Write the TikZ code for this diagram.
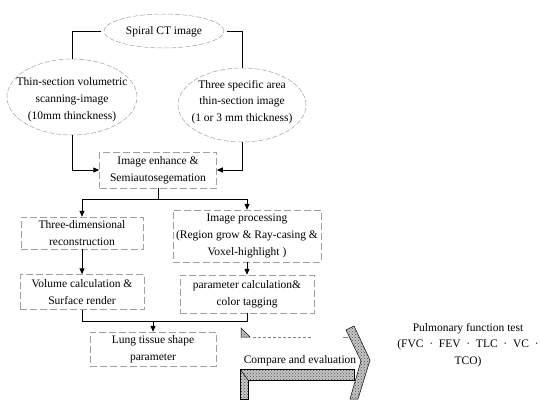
\documentclass[tikz,border=0pt]{standalone}
\usepackage{fontspec}
\setmainfont{Liberation Serif}
\usetikzlibrary{arrows.meta,shapes.geometric,patterns}
\begin{document}
\begin{tikzpicture}[x=1pt,y=-1pt,
  txt/.style={align=center, inner sep=0pt, font=\fontsize{11.5}{16.8}\selectfont},
  box/.style={txt, draw=gray!75, dash pattern=on 7pt off 3pt, line width=0.5pt},
  ell/.style={ellipse, draw=gray!75, dash pattern=on 5pt off 2pt, line width=0.5pt, inner sep=0pt},
  conn/.style={line width=0.9pt, line join=miter},
  arr/.style={conn, -{Triangle[length=6pt,width=5pt]}},
  hatch/.style={draw=black, line width=0.5pt, fill=gray!45, postaction={pattern=crosshatch dots, pattern color=black!70}}
]
\useasboundingbox (0,0) rectangle (540,399);

% ellipses
\node[ell, minimum width=120, minimum height=34] (spiral) at (164,31) {};
\node[txt] (spiraltxt) at (164,32) {Spiral CT image};
\node[ell, minimum width=130, minimum height=76] (lefte) at (72,97) {};
\node[txt] (lefttxt) at (72,100) {Thin-section volumetric\\scanning-image\\(10mm thinckness)};
\node[ell, minimum width=128, minimum height=74] (righte) at (242,105) {};
\node[txt] (righttxt) at (242,102) {Three specific area\\thin-section image\\(1 or 3 mm thickness)};

% boxes
\node[box, minimum width=117, minimum height=36] (enh) at (158,170) {Image enhance \&\\Semiautosegemation};
\node[box, minimum width=122, minimum height=32] (threed) at (82,233) {Three-dimensional\\reconstruction};
\node[box, minimum width=148, minimum height=52] (imgp) at (247,236) {Image processing\\(Region grow \& Ray-casing \&\\Voxel-highlight )};
\node[box, minimum width=124, minimum height=35] (vol) at (82,292) {Volume calculation \&\\Surface render};
\node[box, minimum width=134, minimum height=38] (param) at (247,294) {parameter calculation\&\\color tagging};
\node[box, minimum width=126, minimum height=34] (lung) at (153,349) {Lung tissue shape\\parameter};
\node[txt] (cmp) at (300,361) {Compare and evaluation};
\node[txt] (pft) at (468,345) {Pulmonary function test\\(FVC\enspace·\enspace FEV\enspace·\enspace TLC\enspace·\enspace VC\enspace·\\TCO)};

% connectors
\draw[conn, shorten <=3pt] (spiral.west) -| (lefte.north);
\draw[conn, shorten <=3pt] (spiral.east) -| (righte.north);
\draw[arr] (lefte.south) |- (enh.west);
\draw[arr] (righte.south) |- (enh.east);
\draw[conn] (enh.south) -- ++(0,11) coordinate (split);
\draw[arr] (split) -| (threed.north);
\draw[arr] (split) -| (imgp.north);
\draw[arr] (threed.south) -- (vol.north);
\draw[arr] (imgp.south) -- (param.north);
\draw[conn] (vol.south) -- ++(0,11.5) coordinate (m1) -- (m1 -| param.south) -- (param.south);
\draw[arr] (lung.north |- m1) -- (lung.north);

% compare arrow shape
\draw[hatch] (241,328) -- (241,337) -- (250,337) -- cycle;
\draw[gray, dash pattern=on 3pt off 2pt, line width=0.4pt] (253,337) -- (312,337);
\draw[gray, line width=0.4pt] (343,337) -- (348,337);
\draw[hatch] (346,330) -- (354,326) -- (370,360) -- (358,399) -- (350,399) -- (361,361) -- cycle;
\draw[hatch] (240,369) -- (354,369) -- (354,380) -- (248,380) -- (248,399) -- (240,399) -- cycle;
\draw[line width=0.5pt] (240,369) -- (248,380);
\end{tikzpicture}
\end{document}
